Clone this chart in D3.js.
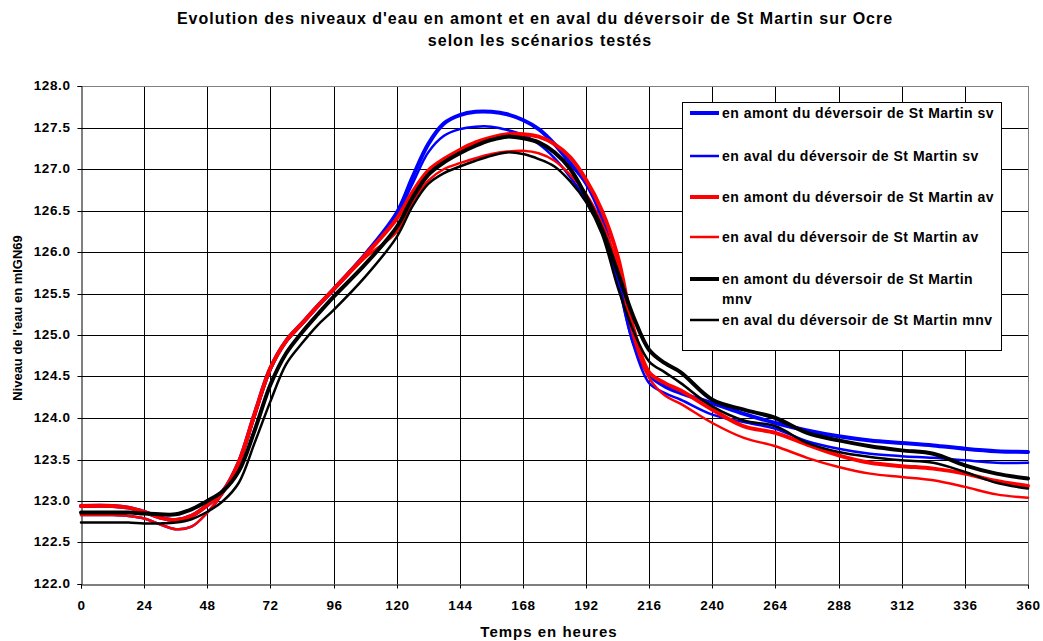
<!DOCTYPE html>
<html><head><meta charset="utf-8">
<script src="https://cdn.jsdelivr.net/npm/d3@7"></script>
<style>body{margin:0;background:#fff}svg{display:block}text{font-family:"Liberation Sans",Arial,sans-serif;font-weight:bold;fill:#000}</style>
</head><body>
<script>
const hours = [0,12,18,24,30,36,42,48,54,60,66,72,78,84,90,96,108,120,126,132,138,144,150,156,162,168,174,180,186,192,198,204,210,216,222,228,240,252,264,276,288,300,312,324,336,348,360];
const amontSV = [122.94,122.94,122.92,122.87,122.80,122.77,122.82,122.95,123.12,123.47,124.05,124.60,124.93,125.14,125.35,125.55,125.97,126.47,126.90,127.30,127.55,127.65,127.69,127.69,127.66,127.59,127.48,127.30,127.07,126.83,126.42,125.70,124.92,124.52,124.38,124.30,124.18,124.05,123.94,123.85,123.78,123.73,123.70,123.67,123.63,123.60,123.59];
const avalSV = [122.83,122.83,122.82,122.79,122.72,122.66,122.69,122.86,123.10,123.44,124.02,124.58,124.92,125.13,125.34,125.54,125.96,126.45,126.82,127.20,127.40,127.48,127.51,127.51,127.47,127.41,127.30,127.13,126.90,126.63,126.25,125.65,124.88,124.42,124.30,124.22,124.04,123.95,123.87,123.72,123.63,123.57,123.54,123.52,123.49,123.46,123.46];
const amontAV = [122.94,122.94,122.92,122.87,122.80,122.77,122.82,122.95,123.12,123.47,124.05,124.60,124.93,125.14,125.35,125.55,125.96,126.40,126.72,126.98,127.12,127.23,127.32,127.38,127.42,127.42,127.39,127.30,127.14,126.87,126.50,125.95,125.08,124.55,124.42,124.33,124.10,123.90,123.82,123.68,123.55,123.46,123.42,123.39,123.33,123.24,123.18];
const avalAV = [122.83,122.83,122.82,122.79,122.72,122.66,122.69,122.86,123.10,123.44,124.02,124.58,124.92,125.13,125.34,125.54,125.93,126.24,126.60,126.86,127.00,127.07,127.13,127.18,127.21,127.22,127.19,127.10,126.93,126.70,126.35,125.85,124.98,124.48,124.27,124.17,123.94,123.76,123.66,123.52,123.41,123.33,123.29,123.25,123.17,123.08,123.04];
const amontMNV = [122.86,122.86,122.86,122.85,122.84,122.84,122.90,123.00,123.12,123.36,123.85,124.40,124.78,125.03,125.25,125.46,125.85,126.30,126.65,126.93,127.08,127.19,127.28,127.35,127.39,127.37,127.32,127.20,127.00,126.67,126.28,125.76,125.22,124.82,124.66,124.55,124.22,124.10,124.00,123.82,123.73,123.66,123.61,123.57,123.43,123.33,123.27];
const avalMNV = [122.74,122.74,122.74,122.73,122.73,122.74,122.78,122.87,123.00,123.22,123.70,124.20,124.65,124.90,125.12,125.30,125.70,126.18,126.55,126.82,126.95,127.03,127.10,127.16,127.20,127.18,127.12,127.03,126.85,126.60,126.22,125.58,125.05,124.68,124.55,124.42,124.14,123.97,123.90,123.70,123.59,123.53,123.49,123.46,123.35,123.22,123.15];
const seriesNames = ["en amont du déversoir de St Martin sv","en aval du déversoir de St Martin sv","en amont du déversoir de St Martin av","en aval du déversoir de St Martin av","en amont du déversoir de St Martin mnv","en aval du déversoir de St Martin mnv"];
const seriesColors = ["#0000ff","#0000ff","#ff0000","#ff0000","#000000","#000000"];
const seriesWidths = [4,2.5,4,2.5,4,2.5];
const xTicks = [0,24,48,72,96,120,144,168,192,216,240,264,288,312,336,360];
const yTicks = [122.0,122.5,123.0,123.5,124.0,124.5,125.0,125.5,126.0,126.5,127.0,127.5,128.0];
const titleLines = ["Evolution des niveaux d'eau en amont et en aval du déversoir de St Martin sur Ocre","selon les scénarios testés"];
const xTitle = "Temps en heures";
const yTitle = "Niveau de l'eau en mIGN69";

const W=1043,H=641;
const L=81,R=1028,T=86,B=584;
const svg=d3.select("body").append("svg").attr("width",W).attr("height",H);
const x=d3.scaleLinear().domain([0,360]).range([L,R]);
const y=d3.scaleLinear().domain([122,128]).range([B,T]);
const snap=v=>Math.round(v)+0.5;

// grid
const g=svg.append("g");
g.selectAll(".hg").data(yTicks.filter(d=>d>122 && d<128)).join("line")
 .attr("x1",L).attr("x2",R).attr("y1",d=>snap(y(d))).attr("y2",d=>snap(y(d)))
 .attr("stroke","#000").attr("stroke-width",1);
g.selectAll(".vg").data(xTicks.filter(d=>d>0 && d<360)).join("line")
 .attr("y1",T).attr("y2",B).attr("x1",d=>snap(x(d))).attr("x2",d=>snap(x(d)))
 .attr("stroke","#000").attr("stroke-width",1);
// plot border (grey)
svg.append("line").attr("x1",L).attr("x2",R).attr("y1",snap(y(128))).attr("y2",snap(y(128))).attr("stroke","#808080");
svg.append("line").attr("x1",snap(x(360))).attr("x2",snap(x(360))).attr("y1",T).attr("y2",B).attr("stroke","#808080");

// axes
const yAxis=d3.axisLeft(y).tickValues(yTicks).tickFormat(d3.format(".1f")).tickSize(4).tickPadding(7);
const xAxis=d3.axisBottom(x).tickValues(xTicks).tickFormat(d3.format("d")).tickSize(4).tickPadding(12);
const ya=svg.append("g").attr("transform",`translate(${snap(L)},0)`).call(yAxis);
const xa=svg.append("g").attr("transform",`translate(0,${snap(B)})`).call(xAxis);
[ya,xa].forEach(a=>{a.select(".domain").attr("stroke","#000");a.selectAll(".tick line").attr("stroke","#000");
 a.selectAll(".tick text").style("font-size","13.5px").style("letter-spacing","0.6px").style("font-family","'Liberation Sans',Arial,sans-serif").style("font-weight","bold").attr("fill","#000");});
xa.selectAll(".tick").attr("transform",d=>`translate(${snap(x(d))},0)`);
ya.selectAll(".tick").attr("transform",d=>`translate(0,${snap(y(d))-0.5})`);
ya.selectAll(".tick line").attr("transform","translate(0,0.5)");

// lines
const allSeries=[amontSV,avalSV,amontAV,avalAV,amontMNV,avalMNV];
const line=d3.line().x((d,i)=>x(hours[i])).y(d=>y(d)).curve(d3.curveCatmullRom.alpha(0.5));
svg.append("g").selectAll("path").data(allSeries).join("path")
 .attr("d",d=>line(d)).attr("fill","none")
 .attr("stroke",(d,i)=>seriesColors[i]).attr("stroke-width",(d,i)=>seriesWidths[i])
 .attr("stroke-linejoin","round").attr("stroke-linecap","round");

// titles
svg.append("text").attr("x",535).attr("y",23.5).attr("text-anchor","middle").style("font-size","16px").style("letter-spacing","1px").text(titleLines[0]);
svg.append("text").attr("x",540).attr("y",46).attr("text-anchor","middle").style("font-size","16px").style("letter-spacing","1px").text(titleLines[1]);
svg.append("text").attr("x",549).attr("y",637).attr("text-anchor","middle").style("font-size","15px").style("letter-spacing","1px").text(xTitle);
svg.append("text").attr("transform","translate(22,318) rotate(-90)").attr("text-anchor","middle").style("font-size","13px").text(yTitle);

// legend
const lg=svg.append("g");
lg.append("rect").attr("x",682.5).attr("y",102.5).attr("width",319).attr("height",248).attr("fill","#fff").attr("stroke","#000").attr("stroke-width",1);
const legY=[113,156,197,237,279,320];
seriesNames.forEach((n,i)=>{
  lg.append("line").attr("x1",690).attr("x2",719).attr("y1",legY[i]).attr("y2",legY[i])
    .attr("stroke",seriesColors[i]).attr("stroke-width",seriesWidths[i]);
  const t=lg.append("text").attr("x",722).attr("y",legY[i]+5).style("font-size","14px").style("letter-spacing","0.5px");
  if(i===4){
    t.text("en amont du déversoir de St Martin");
    lg.append("text").attr("x",722).attr("y",legY[i]+25).style("font-size","14px").style("letter-spacing","0.5px").text("mnv");
  } else t.text(n);
});
</script>
</body></html>
